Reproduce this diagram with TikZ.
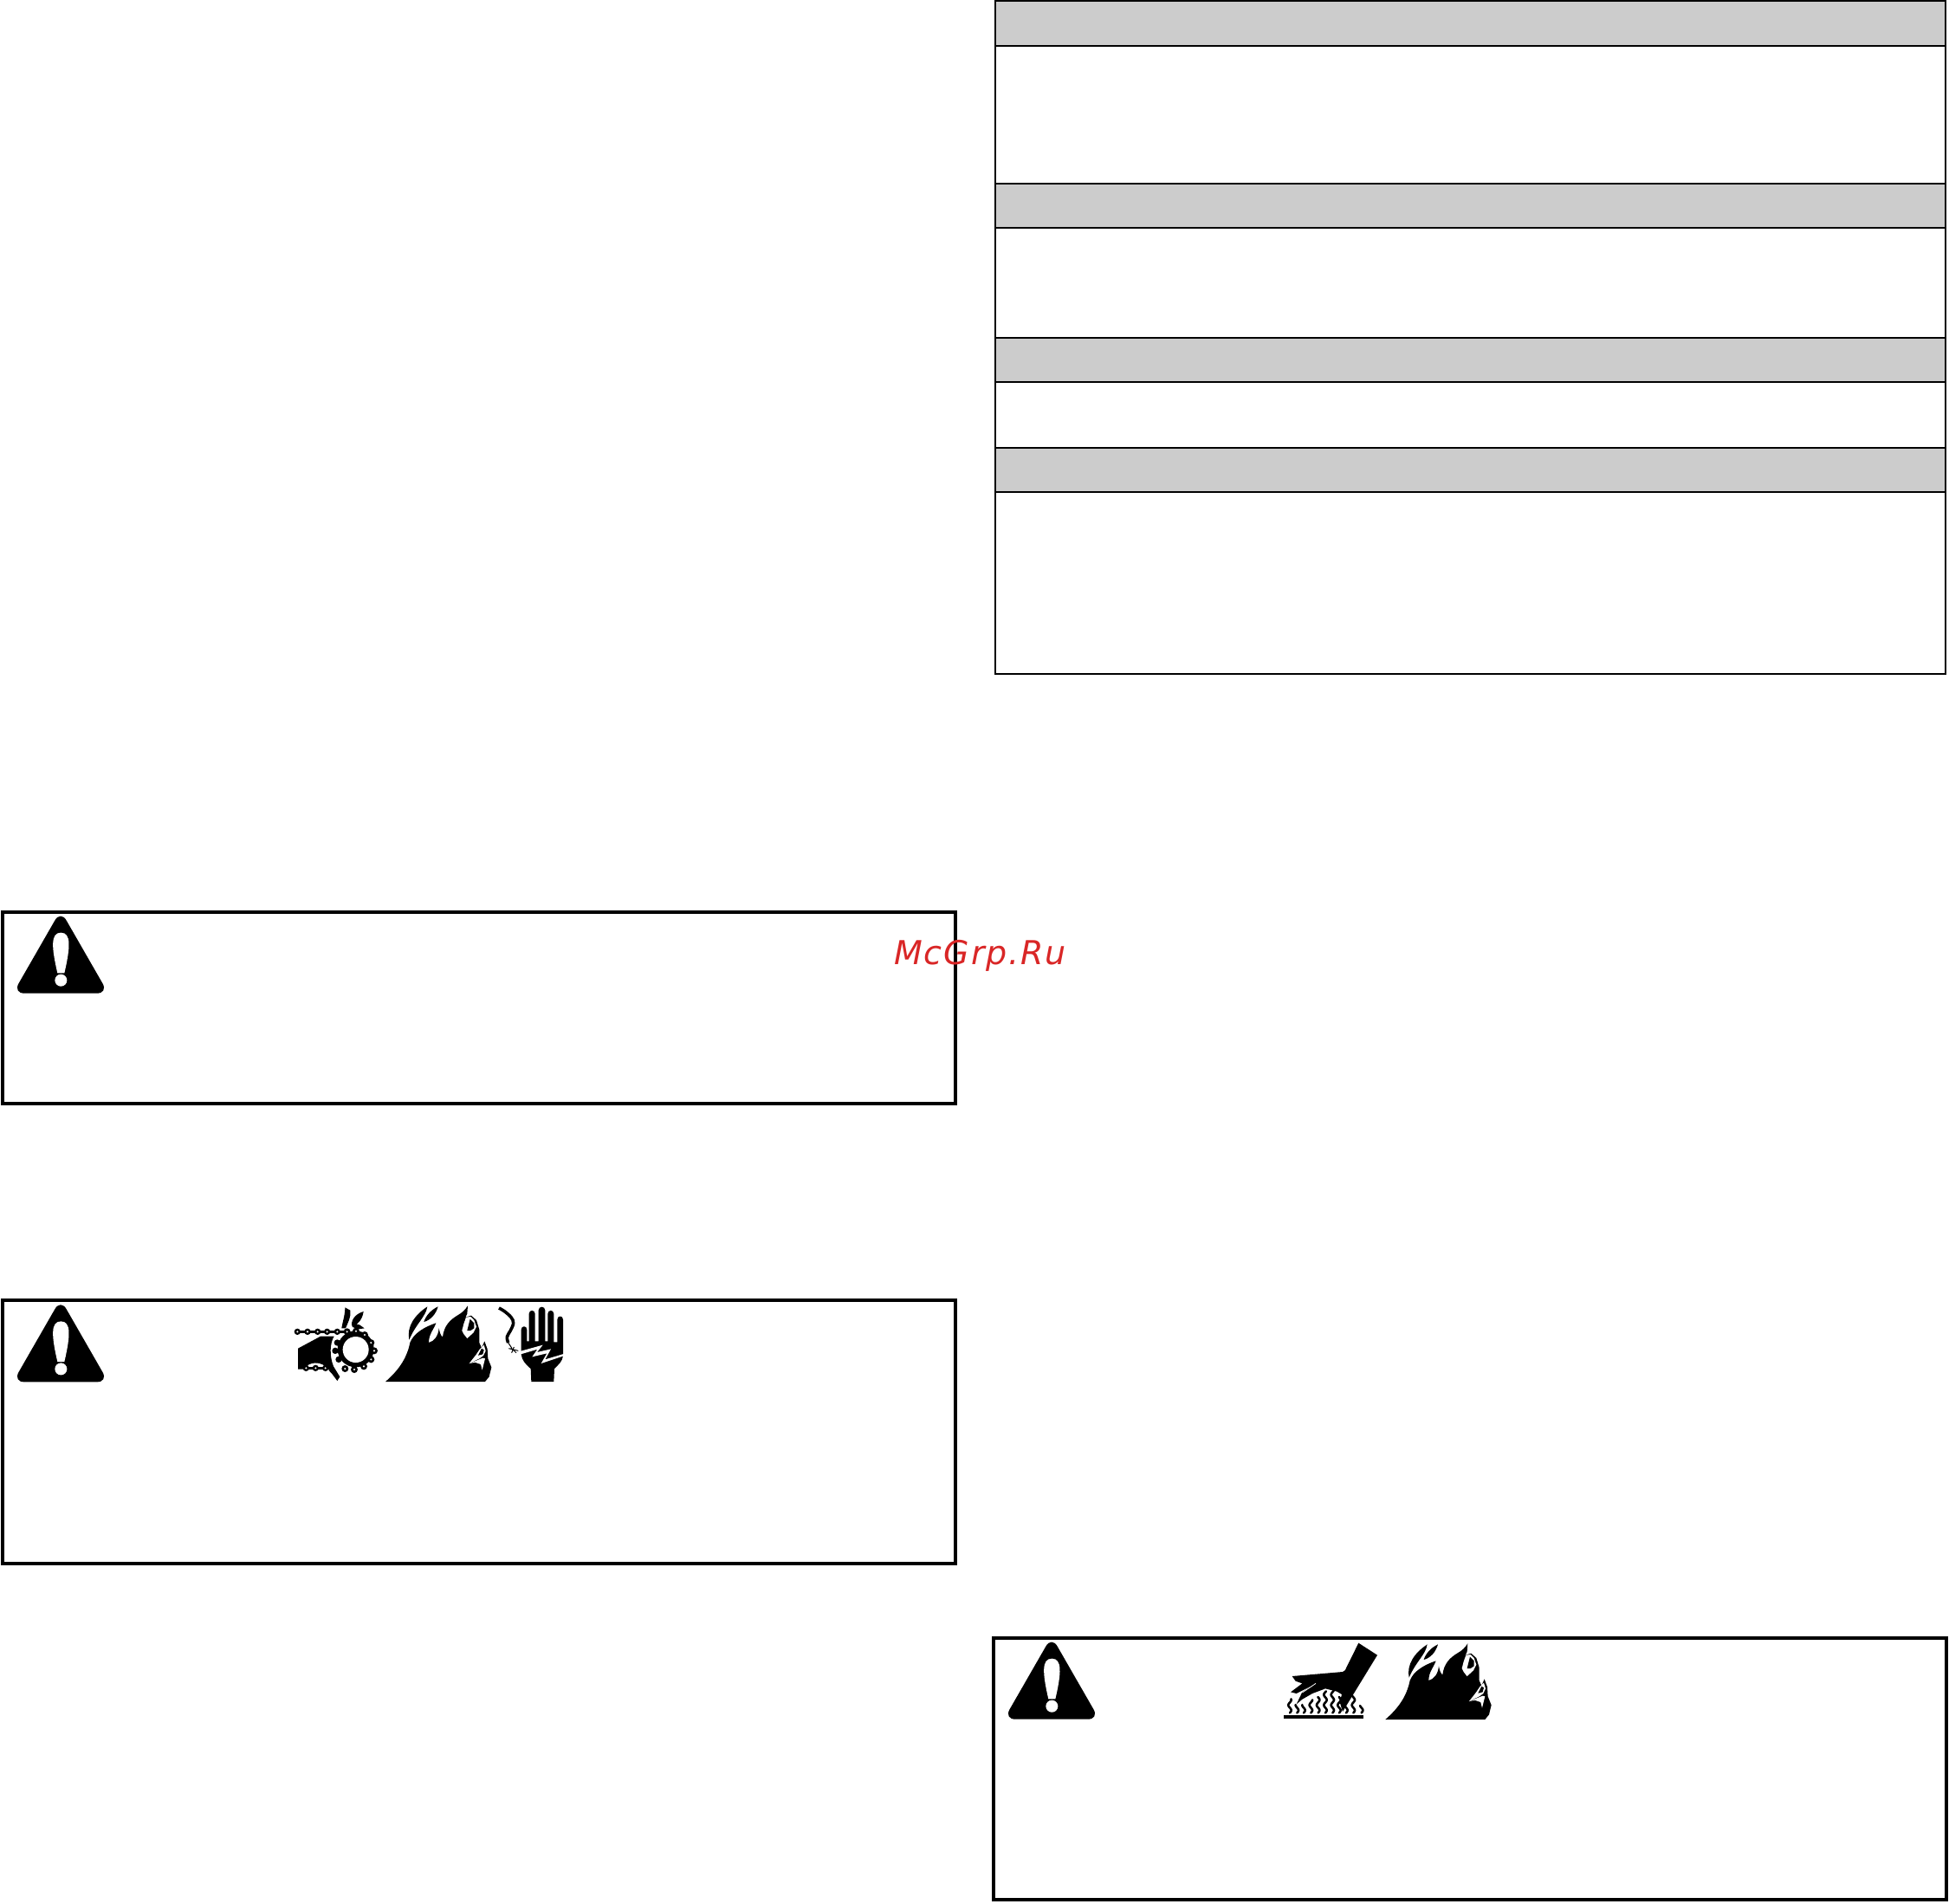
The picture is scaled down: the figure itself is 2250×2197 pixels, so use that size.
\documentclass[tikz,border=0pt]{standalone}
\usepackage{fontspec}
\newfontfamily\wmfont[LetterSpace=5]{DejaVu Sans Oblique}
\definecolor{bandgray}{HTML}{CCCCCC}
\definecolor{wmred}{HTML}{D92626}
\tikzset{
  warnbox/.style={draw=black,line width=4pt,fill=none,line join=miter},
  tablebox/.style={draw=black,line width=2pt,fill=none},
  bandbox/.style={draw=black,line width=2pt,fill=bandgray},
  zoomed/.style={x=.33333pt,y=-.33333pt},
}
\newcommand{\warnTriangle}[1]{%
  \begin{scope}[shift={#1},zoomed]
    \fill[black,rounded corners=13pt] (210,33)--(375,320)--(45,320)--cycle;
    \fill[white] (211,110) .. controls (175,110) and (178,160) .. (199,250)
      -- (223,250) .. controls (244,160) and (247,110) .. (211,110) -- cycle;
    \fill[white] (211,275) circle[radius=21];
  \end{scope}}
\newcommand{\flameIcon}[1]{%
  \begin{scope}[shift={#1},zoomed]
    \fill[black,line join=round] (15,285)
      .. controls (55,250) and (88,210) .. (100,150)
      .. controls (112,118) and (150,95) .. (190,82)
      .. controls (182,105) and (165,120) .. (165,150)
      .. controls (185,145) and (198,125) .. (200,100)
      .. controls (203,115) and (206,125) .. (213,130)
      .. controls (218,90) and (240,70) .. (265,55)
      .. controls (280,47) and (292,35) .. (300,22)
      -- (298,50) -- (292,62) -- (312,56) -- (330,72) -- (340,105) -- (340,150)
      -- (348,168) -- (358,145) -- (368,172) -- (370,205) -- (382,235)
      -- (374,268) -- (360,285) -- cycle;
    \fill[black] (97,140) .. controls (88,95) and (115,55) .. (160,25)
      .. controls (155,60) and (120,85) .. (97,140) -- cycle;
    \fill[black] (197,25) .. controls (190,50) and (172,72) .. (148,78)
      .. controls (155,55) and (175,35) .. (197,25) -- cycle;
    \fill[white] (294,62) -- (310,60) -- (322,72) -- (330,95) -- (320,115) -- (298,135)
      -- (286,120) -- (280,108) -- (286,85) -- cycle;
    \fill[black] (298,108) -- (308,68) -- (322,82) -- (322,100) -- (310,108) -- cycle;
    \fill[white] (305,222) -- (330,190) -- (342,172) -- (356,158) -- (362,178)
      -- (354,195) -- (340,205) -- cycle;
    \fill[black] (336,194) -- (348,170) -- (356,175) -- (352,190) -- cycle;
    \fill[white] (305,222) -- (352,203) -- (360,205) -- (350,245) -- (345,225)
      -- (325,218) -- cycle;
  \end{scope}}
\begin{document}
\begin{tikzpicture}[x=1pt,y=-1pt]
\useasboundingbox (0,0) rectangle (2250,2197);
\fill[white] (0,0) rectangle (2250,2197);
% table on the right
\draw[tablebox] (1149,1) rectangle (2245.5,778);
\draw[bandbox] (1149,1) rectangle (2245.5,53);
\draw[bandbox] (1149,212) rectangle (2245.5,263);
\draw[bandbox] (1149,389.5) rectangle (2245.5,441);
\draw[bandbox] (1149,516.5) rectangle (2245.5,568);
% boxes
\draw[warnbox] (3,1052.5) rectangle (1103,1274);
\draw[warnbox] (3,1501) rectangle (1103,1804.5);
\draw[warnbox] (1147,1891) rectangle (2247,2193);
% triangles
\warnTriangle{(0,1040)}
\warnTriangle{(0,1488.7)}
\warnTriangle{(1144,1878)}
% chain and sprocket icon
\begin{scope}[shift={(335,1500)},zoomed]
  \fill[black] (27,170) -- (105,128) -- (152,128)
     .. controls (138,150) and (135,195) .. (150,232)
     -- (172,268) -- (163,282) -- (145,258) -- (130,242) -- (27,242) -- cycle;
  \fill[white] (48,240) .. controls (65,218) and (105,208) .. (135,245) -- cycle;
  \draw[black,line width=2.4pt] (25,112) -- (200,112);
  \draw[black,line width=2.4pt] (50,238) -- (130,238);
  \foreach \px in {25,60,95,128,163}{
    \fill[black] (\px,112) circle[radius=11];
    \fill[white] (\px,112) circle[radius=3.5];}
  \foreach \px in {55,88,122}{
    \fill[black] (\px,238) circle[radius=11];
    \fill[white] (\px,238) circle[radius=3.5];}
  \fill[black] (227,172) circle[radius=63];
  \foreach \px/\py in {163/150,156/178,168/208}{
    \fill[black] (\px,\py) circle[radius=11];}
  \foreach \px/\py in {197/112,228/110,258/123,280/150,291/178,280/208,255/232,222/243,190/240}{
    \fill[black] (\px,\py) circle[radius=12];
    \fill[white] (\px,\py) circle[radius=3.5];}
  \fill[white] (227,174) circle[radius=45];
  % fingers
  \fill[black] (190,28) -- (208,38) .. controls (212,60) and (200,80) .. (192,100)
     -- (178,100) .. controls (182,75) and (190,55) .. (190,28) -- cycle;
  \fill[black] (254,42) .. controls (250,70) and (235,85) .. (216,97)
     .. controls (206,75) and (225,50) .. (254,42) -- cycle;
  \fill[black] (220,85) -- (240,88) -- (257,100) -- (232,104) -- (218,96) -- cycle;
\end{scope}
% flames
\flameIcon{(440,1500)}
\flameIcon{(1594.3,1890)}
% hand with wire
\begin{scope}[shift={(570,1500)},zoomed]
  \draw[black,line width=3.6pt,line join=round] plot[smooth,tension=.6] coordinates
    {(18,30) (38,42) (60,62) (68,82) (58,108) (46,130) (50,150)};
  \draw[black,line width=1pt] (50,150) -- (62,168);
  \draw[black,line width=1pt] (70,165) -- (62,185) (52,170) -- (85,178) (60,168) -- (78,185);
  \fill[black,line join=round] (95,105) .. controls (95,90) and (115,90) .. (115,105)
    -- (115,145) -- (122,145) -- (122,50) .. controls (122,35) and (143,35) .. (143,50)
    -- (143,145) -- (155,145) -- (155,38) .. controls (155,22) and (178,22) .. (178,38)
    -- (178,145) -- (187,145) -- (187,50) .. controls (187,35) and (208,35) .. (208,50)
    -- (208,148) -- (220,148) -- (220,70) .. controls (220,55) and (240,55) .. (240,70)
    -- (240,195) .. controls (238,215) and (225,225) .. (210,240) -- (208,285) -- (130,285)
    -- (128,240) .. controls (110,225) and (97,210) .. (95,190) -- cycle;
  \fill[white] (90,180) -- (170,158) -- (150,183) -- (198,172) -- (178,208) -- (245,188)
    -- (245,195) -- (164,222) -- (184,187) -- (133,199) -- (151,173) -- (90,191) -- cycle;
\end{scope}
% hot surface hand
\begin{scope}[shift={(1475,1890)},zoomed]
  \fill[black] (22,270) rectangle (297,283);
  \foreach \px/\h in {42/48,67/28,90/28,115/45,140/55,165/75,190/90,213/55,237/35,262/60,290/25}{
    \draw[black,line width=2.6pt,line cap=round] plot[domain=0:1,samples=30,smooth]
      ({\px+5*sin(10*\h*\x)},{262-\h*\x});}
  \fill[black] (280,20) -- (345,62) -- (225,258) -- (215,225) -- (222,198) -- (205,188)
     -- (165,178) -- (120,195) -- (85,215) -- (65,232) -- (85,190) -- (118,168)
     -- (65,195) -- (45,190) -- (85,160) -- (62,152) -- (50,135) -- (225,120)
     .. controls (232,118) and (236,112) .. (238,105) -- cycle;
  \draw[white,line width=.8pt] (132,160) -- (85,192);
\end{scope}
% watermark
\node[anchor=base west,inner sep=0pt,text=wmred,font=\wmfont\fontsize{38}{38}\selectfont] (wm) at (1032,1113) {McGrp.Ru};
\end{tikzpicture}
\end{document}
